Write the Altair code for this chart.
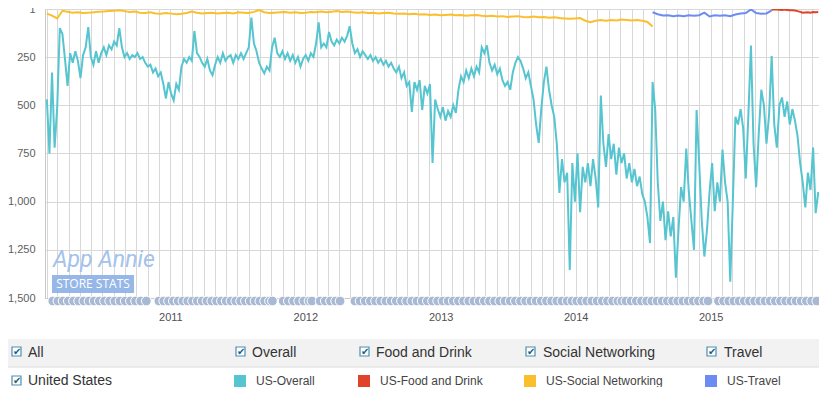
import altair as alt
import pandas as pd

# ---------------- data ----------------
# US-Overall rank, one value per week starting 2010-02-01
overall_ranks = [
    470, 750, 330, 720, 510, 100, 130, 260, 400, 230,
    280, 220, 270, 360, 240, 200, 95, 250, 290, 220,
    280, 230, 200, 240, 190, 210, 170, 190, 100, 200,
    250, 230, 260, 240, 250, 230, 260, 250, 280, 300,
    290, 330, 310, 350, 330, 390, 465, 380, 440, 475,
    390, 420, 300, 260, 280, 250, 270, 115, 230, 250,
    280, 300, 260, 320, 345, 290, 250, 280, 230, 270,
    250, 240, 280, 240, 260, 230, 260, 230, 200, 45,
    180, 220, 280, 310, 335, 300, 320, 200, 150, 230,
    250, 220, 260, 230, 270, 240, 280, 250, 300, 260,
    240, 270, 230, 250, 180, 70, 200, 180, 200, 120,
    170, 190, 160, 180, 150, 170, 140, 90, 180, 230,
    210, 250, 220, 240, 260, 240, 270, 250, 280, 260,
    290, 270, 300, 280, 310, 330, 300, 360, 330, 400,
    380, 535, 380, 420, 370, 525, 400, 440, 390, 800,
    470, 520, 560, 510, 580, 530, 560, 500, 540, 420,
    350, 380, 320, 360, 310, 350, 300, 330, 200, 230,
    190, 280, 320, 290, 340, 310, 370, 400, 380, 420,
    330, 280, 250, 270, 310, 360, 330, 400, 470, 600,
    695, 520, 380, 300, 420, 500, 560, 700, 955, 780,
    900, 850, 1355, 800, 1000, 750, 1055, 820, 900, 800,
    920, 780, 880, 1030, 450, 700, 820, 650, 780, 700,
    860, 720, 800, 750, 880, 800, 900, 830, 920, 870,
    960, 1000, 1080, 1215, 380, 520, 900, 1100, 1000, 1200,
    1050, 1180, 1080, 1395, 1150, 925, 1000, 725, 950, 1100,
    1250, 525, 800, 1100, 1285, 1150, 950, 800, 1050, 900,
    1000, 730, 900, 1000, 1415, 1000, 560, 600, 520, 620,
    880, 550, 190, 700, 925, 650, 420, 500, 700, 550,
    245, 600, 720, 500, 460, 560, 480, 600, 520, 580,
    660, 800, 900, 1030, 850, 940, 720, 1060, 950,
]

# US-Social Networking rank, one value every two weeks from 2010-02-01
social_ranks = [
    25, 35, 50, 10, 15, 20, 18, 22, 20, 18,
    15, 14, 12, 10, 8, 12, 16, 14, 20, 22,
    18, 24, 26, 22, 25, 28, 26, 22, 14, 20,
    24, 22, 20, 24, 22, 20, 24, 18, 20, 22,
    16, 6, 18, 22, 20, 18, 16, 20, 18, 22,
    20, 16, 18, 14, 18, 15, 12, 16, 14, 18,
    20, 18, 22, 20, 24, 22, 20, 24, 26, 24,
    28, 26, 30, 28, 32, 30, 34, 32, 30, 34,
    32, 36, 34, 32, 36, 38, 36, 40, 38, 42,
    40, 38, 42, 44, 40, 44, 42, 46, 44, 48,
    50, 52, 50, 48, 62, 70, 62, 58, 62, 58,
    60, 56, 58, 60, 58, 62, 68, 92,
]

# US-Travel rank, every two weeks from 2014-07-28
travel_ranks = [18, 28, 35, 34, 38, 35, 38, 34, 36, 33, 20, 40,
                34, 36, 33, 38, 30, 24, 22, 3, 22, 26, 24, 8]

# US-Food and Drink rank, weekly from 2015-06-15
food_ranks = [5, 4, 3, 5, 6, 4, 6, 8, 7, 9, 12, 16, 20, 19, 18, 20, 17, 18, 17]

series_names = ["US-Overall", "US-Food and Drink", "US-Social Networking", "US-Travel"]
series_colors = ["#56c5d0", "#e0432a", "#fbbf2e", "#6c8cf4"]

# event markers along the time axis
event_dates = [
    "2010-02-17", "2010-03-03", "2010-03-17", "2010-03-31", "2010-04-14", "2010-04-28",
    "2010-05-12", "2010-05-26", "2010-06-09", "2010-06-23", "2010-07-07", "2010-07-21",
    "2010-08-04", "2010-08-18", "2010-09-01", "2010-09-15", "2010-09-29", "2010-10-13",
    "2010-10-28",
    "2010-12-01", "2010-12-14", "2010-12-27", "2011-01-09", "2011-01-22", "2011-02-04",
    "2011-02-17", "2011-03-02", "2011-03-15", "2011-03-28", "2011-04-10", "2011-04-23",
    "2011-05-06", "2011-05-19", "2011-06-01", "2011-06-14", "2011-06-27", "2011-07-10",
    "2011-07-23", "2011-08-05", "2011-08-18", "2011-08-31", "2011-09-13", "2011-09-26",
    "2011-10-04",
    "2011-11-02", "2011-11-16", "2011-11-30", "2011-12-14", "2011-12-28", "2012-01-11",
    "2012-01-19",
    "2012-02-10", "2012-02-24", "2012-03-09", "2012-03-23", "2012-04-04",
    "2012-05-14", "2012-05-28", "2012-06-11", "2012-06-25", "2012-07-09", "2012-07-23",
    "2012-08-06", "2012-08-20", "2012-09-03", "2012-09-17", "2012-10-01", "2012-10-15",
    "2012-10-29", "2012-11-12", "2012-11-26", "2012-12-10", "2012-12-24", "2013-01-07",
    "2013-01-21", "2013-02-04", "2013-02-18", "2013-03-04", "2013-03-18", "2013-04-01",
    "2013-04-15", "2013-04-29", "2013-05-13", "2013-05-27", "2013-06-10", "2013-06-24",
    "2013-07-08", "2013-07-22", "2013-08-05", "2013-08-19", "2013-09-02", "2013-09-16",
    "2013-09-30", "2013-10-14", "2013-10-28", "2013-11-11", "2013-11-25", "2013-12-09",
    "2013-12-22",
    "2014-01-04", "2014-01-17", "2014-01-31", "2014-02-14", "2014-02-28", "2014-03-14",
    "2014-03-28", "2014-04-11", "2014-04-25", "2014-05-06",
    "2014-05-17", "2014-05-31", "2014-06-14", "2014-06-28", "2014-07-12", "2014-07-26",
    "2014-08-09", "2014-08-23", "2014-09-06", "2014-09-20", "2014-10-04", "2014-10-18",
    "2014-11-01", "2014-11-15", "2014-11-29", "2014-12-13", "2014-12-25",
    "2015-01-22", "2015-02-05", "2015-02-19", "2015-03-05", "2015-03-19", "2015-04-02",
    "2015-04-16", "2015-04-30", "2015-05-14", "2015-05-28", "2015-06-11", "2015-06-25",
    "2015-07-09", "2015-07-23", "2015-08-06", "2015-08-20", "2015-09-03", "2015-09-17",
    "2015-10-01", "2015-10-15",
]

y_ticks = [1, 250, 500, 750, 1000, 1250, 1500]

header_labels = ["All", "Overall", "Food and Drink", "Social Networking", "Travel"]
row_label = "United States"

# ---------------- build tables ----------------
def frame(name, start, freq, ranks):
    d = pd.date_range(start, periods=len(ranks), freq=freq)
    return pd.DataFrame({"date": d.strftime("%Y-%m-%d"), "rank": ranks, "series": name})

df = pd.concat([
    frame("US-Overall", "2010-02-01", "7D", overall_ranks),
    frame("US-Social Networking", "2010-02-01", "14D", social_ranks),
    frame("US-Travel", "2014-07-28", "14D", travel_ranks),
    frame("US-Food and Drink", "2015-06-15", "7D", food_ranks),
], ignore_index=True)

events_df = pd.DataFrame({"date": event_dates})

months = pd.date_range("2010-02-01", "2015-10-01", freq="MS")
month_ticks = [alt.DateTime(year=m.year, month=m.month, date=1, utc=True) for m in months]

FONT = "Liberation Sans"

x_enc = alt.X(
    "date:T",
    title=None,
    scale=alt.Scale(type="utc", domain=[alt.DateTime(year=2010, month=1, date=27, utc=True),
                                        alt.DateTime(year=2015, month=10, date=21, utc=True)]),
    axis=alt.Axis(values=month_ticks,
                  labelExpr="utcmonth(datum.value) === 0 ? utcFormat(datum.value, '%Y') : ''",
                  tickSize=0, labelPadding=13, labelFont=FONT, labelFontSize=11,
                  labelColor="#505050", gridColor="#d8d8d8", domainColor="#c8c8c8",
                  labelOverlap=False, labelFlush=False),
)
y_enc = alt.Y(
    "rank:Q", title=None,
    scale=alt.Scale(domain=[1, 1500], reverse=True, nice=False, zero=False),
    axis=alt.Axis(values=y_ticks, format=",d", tickSize=0, labelPadding=10, labelFont=FONT,
                  labelFontSize=11, labelColor="#606060", gridColor="#d8d8d8",
                  domainColor="#c8c8c8", labelOverlap=False),
)

lines = alt.Chart(df).mark_line(strokeWidth=2, clip=True).encode(
    x=x_enc, y=y_enc,
    color=alt.Color("series:N", scale=alt.Scale(domain=series_names, range=series_colors), legend=None),
)

events = alt.Chart(events_df).mark_circle(size=95, color="#a9b9d4", opacity=1,
                                          stroke="white", strokeWidth=1).encode(
    x=x_enc, y=alt.value(292))

dummy = alt.Data(values=[{"a": 1}])


def txt(s, px, py, size, color, font=FONT, align="left", baseline="alphabetic", **kw):
    return alt.Chart(dummy).mark_text(text=s, align=align, baseline=baseline, font=font,
                                      fontSize=size, color=color, **kw).encode(
        x=alt.value(px), y=alt.value(py))


def box(x0, x1, y0, y1, color, **kw):
    return alt.Chart(dummy).mark_rect(color=color, **kw).encode(
        x=alt.value(x0), x2=alt.value(x1), y=alt.value(y0), y2=alt.value(y1))


def checkbox(cx, cy):
    # small outlined box with a dark check mark
    return [
        alt.Chart(dummy).mark_rect(fill="white", stroke="#4d8fb0", strokeWidth=1.2).encode(
            x=alt.value(cx), x2=alt.value(cx + 9), y=alt.value(cy), y2=alt.value(cy + 9)),
        txt("\u2714", cx + 1, cy + 8, 10, "#1c5f80", font="DejaVu Sans", fontWeight="bold"),
    ]


layers = []
# watermark
layers.append(txt("App Annie", 8, 258, 23, "#a3c2ec", font="'Liberation Sans Narrow', Roboto",
                  fontStyle="italic"))
layers.append(box(7, 89, 266, 284, "#90b3e7", opacity=0.95))
layers.append(txt("STORE STATS", 48, 279, 12, "white", font="'Open Sans'", align="center"))
layers.append(lines)
layers.append(events)

# bottom control panel
layers.append(box(-37, 774, 330, 358, "#f2f2f2"))
layers.append(alt.Chart(dummy).mark_rule(color="#dcdcdc", strokeWidth=1).encode(
    x=alt.value(-37), x2=alt.value(774), y=alt.value(358)))

header_x = [-17, 207, 331, 498, 679]
check_x = [-33, 191, 315, 481, 662]
for lab, px, cx in zip(header_labels, header_x, check_x):
    layers.extend(checkbox(cx, 338))
    layers.append(txt(lab, px, 348, 14, "#333333"))

layers.extend(checkbox(-33, 367))
layers.append(txt(row_label, -17, 376, 14, "#333333"))

swatch_x = [189, 313, 479, 660]
legend_text_x = [211, 335, 501, 682]
for name, col, sx, tx in zip(series_names, series_colors, swatch_x, legend_text_x):
    layers.append(box(sx, sx + 12, 366, 378, col))
    layers.append(txt(name, tx, 376, 12, "#444444"))

chart = alt.layer(*layers).properties(
    width=774, height=289,
    autosize=alt.AutoSizeParams(type="none"),
    padding={"left": 37, "top": 1, "right": 0, "bottom": 89},
    background="white",
).configure_view(stroke="#d8d8d8", strokeWidth=1)

chart.save("out.html", embed_options={"renderer": "svg", "actions": False})
